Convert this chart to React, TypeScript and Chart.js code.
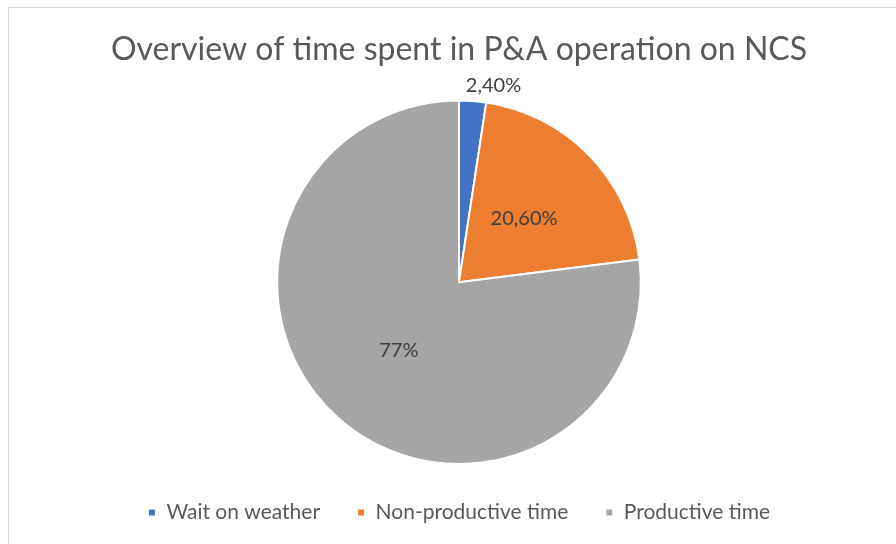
import { useEffect, useRef } from "react";
import { Chart, registerables } from "chart.js";

Chart.register(...registerables);

const categories = ["Wait on weather", "Non-productive time", "Productive time"];
const shares = [2.4, 20.6, 77];
const valueLabels = ["2,40%", "20,60%", "77%"];
const sliceColors = ["#4472C4", "#ED7D31", "#A5A5A5"];
const titleText = "Overview of time spent in P&A operation on NCS";

const FONT = "Lato, 'Open Sans', sans-serif";

// White background plus the thin grey frame of the chart box
const framePlugin = {
  id: "frame",
  beforeDraw(chart: Chart) {
    const { ctx, width, height } = chart;
    ctx.save();
    ctx.fillStyle = "#ffffff";
    ctx.fillRect(0, 0, width, height);
    ctx.strokeStyle = "#d9d9d9";
    ctx.lineWidth = 1;
    ctx.strokeRect(8.5, 7.5, width + 20, height + 20);
    ctx.restore();
  },
};

// Percentage labels: small slices get an outside-end label, the rest sit inside
const sliceLabelPlugin = {
  id: "sliceLabels",
  afterDatasetsDraw(chart: Chart) {
    const { ctx } = chart;
    const meta = chart.getDatasetMeta(0);
    const total = shares.reduce((a, b) => a + b, 0);
    ctx.save();
    ctx.font = `20px ${FONT}`;
    ctx.fillStyle = "#404040";
    ctx.textBaseline = "middle";
    meta.data.forEach((el: any, i: number) => {
      const { x, y, startAngle, endAngle, outerRadius } = el.getProps(
        ["x", "y", "startAngle", "endAngle", "outerRadius"],
        true
      );
      const mid = (startAngle + endAngle) / 2;
      const frac = shares[i] / total;
      if (frac < 0.05) {
        const r = outerRadius + 15;
        const px = x + Math.cos(mid) * r;
        const py = y + Math.sin(mid) * r;
        ctx.textAlign = Math.cos(mid) >= 0 ? "left" : "right";
        ctx.fillText(valueLabels[i], px - 8, py);
      } else {
        const r = outerRadius * 0.5;
        ctx.textAlign = "center";
        ctx.fillText(valueLabels[i], x + Math.cos(mid) * r, y + Math.sin(mid) * r);
      }
    });
    ctx.restore();
  },
};

export default function App() {
  const canvasRef = useRef<HTMLCanvasElement | null>(null);

  useEffect(() => {
    if (!canvasRef.current) return;
    const chart = new Chart(canvasRef.current, {
      type: "pie",
      data: {
        labels: categories,
        datasets: [
          {
            data: shares,
            backgroundColor: sliceColors,
            borderColor: "#ffffff",
            borderWidth: 2,
          },
        ],
      },
      options: {
        responsive: false,
        animation: false,
        layout: { padding: { left: 22, right: 0, top: 0, bottom: 11 } },
        plugins: {
          title: {
            display: true,
            text: titleText,
            color: "#595959",
            font: { family: FONT, size: 32, weight: "normal" },
            padding: { top: 30, bottom: 31 },
          },
          legend: {
            position: "bottom",
            labels: {
              color: "#595959",
              font: { family: FONT, size: 21 },
              boxWidth: 8,
              boxHeight: 8,
              padding: 37,
            },
          },
          tooltip: { enabled: false },
        },
      },
      plugins: [framePlugin, sliceLabelPlugin],
    });
    return () => chart.destroy();
  }, []);

  return (
    <div style={{ position: "absolute", left: 0, top: 0, width: 896, height: 544 }}>
      <canvas ref={canvasRef} width={896} height={544} style={{ display: "block" }} />
    </div>
  );
}
